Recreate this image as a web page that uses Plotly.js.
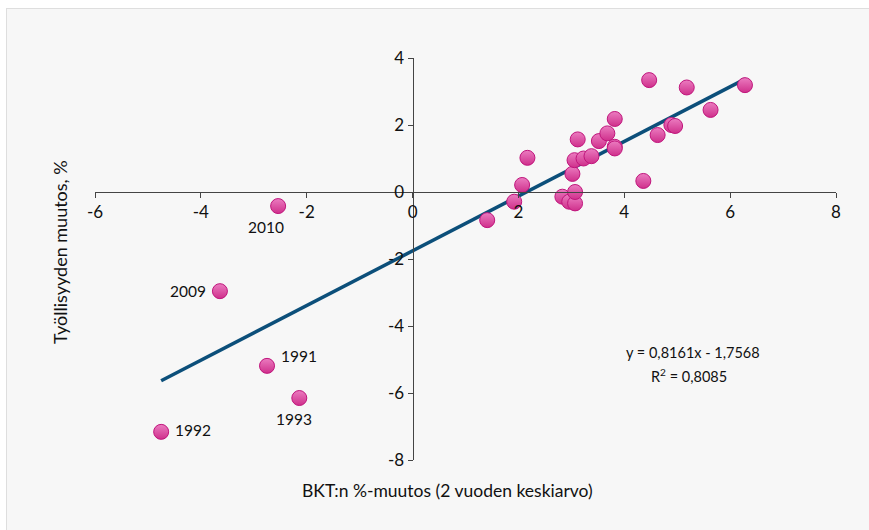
<!DOCTYPE html>
<html><head><meta charset="utf-8">
<script src="https://cdn.plot.ly/plotly-3.0.1.min.js"></script>
<style>
html,body{margin:0;padding:0;background:#fff;width:869px;height:530px;overflow:hidden;}
#panel{position:absolute;left:6px;top:8px;width:869px;height:530px;background:#f7f7f7;border:1px solid #dedede;}
#chart{position:absolute;left:0;top:0;width:869px;height:530px;}
</style></head>
<body><div id="panel"></div><div id="chart"></div>
<script>
// GDP change (2-year average), %
const gdp = [-2.54, -3.64, -2.75, -2.14, -4.75, 1.41, 1.92, 2.07, 2.17, 2.83, 2.96, 3.07, 3.07, 3.02, 3.06, 3.23, 3.38, 3.12, 3.52, 3.68, 3.82, 3.82, 3.82, 4.36, 4.47, 4.63, 4.89, 4.96, 5.18, 5.63, 6.28];
// Employment change, %
const emp = [-0.42, -2.96, -5.19, -6.15, -7.16, -0.84, -0.29, 0.21, 1.02, -0.14, -0.29, -0.34, 0.0, 0.54, 0.95, 1.0, 1.07, 1.57, 1.52, 1.75, 2.18, 1.35, 1.30, 0.33, 3.34, 1.70, 2.0, 1.97, 3.12, 2.45, 3.19];
// Labelled years
const yearLabels = ['2010', '2009', '1991', '1993', '1992'];
const yearX = [-2.54, -3.64, -2.75, -2.14, -4.75];
const yearY = [-0.42, -2.96, -5.19, -6.15, -7.16];
const yearPos = ['below', 'left', 'aboveright', 'below', 'right'];
// Linear trend
const slope = 0.8161, intercept = -1.7568;
const xTicks = [-6, -4, -2, 0, 2, 4, 6, 8];
const yTicks = [-8, -6, -4, -2, 0, 2, 4];

const xmin = Math.min(...gdp), xmax = Math.max(...gdp);
const font = 'Lato, "Open Sans", sans-serif';

const offsets = {
  below: {xshift: -12, yshift: -21, xanchor: 'center'},
  left: {xshift: -12, yshift: 0, xanchor: 'right'},
  aboveright: {xshift: 12, yshift: 10, xanchor: 'left'},
  right: {xshift: 12, yshift: 2, xanchor: 'left'}
};
const yearAnn = yearLabels.map((t, i) => {
  const o = offsets[yearPos[i]];
  return {x: yearX[i], y: yearY[i], xref: 'x', yref: 'y', text: t, showarrow: false,
    xshift: o.xshift + (t === '1993' ? 7 : 0), yshift: o.yshift, xanchor: o.xanchor, yanchor: 'middle',
    font: {family: font, size: 15.5, color: '#111'}};
});

const traces = [
  {x: [xmin, xmax], y: [slope * xmin + intercept, slope * xmax + intercept], mode: 'lines',
   line: {color: '#0c4f7a', width: 3.5}, hoverinfo: 'skip'},
  {x: gdp, y: emp, mode: 'markers',
   marker: {size: 15, color: '#eb7cc0', line: {color: '#c0157c', width: 1},
            gradient: {type: 'vertical', color: '#cf2f8b'}}}
];

const layout = {
  width: 869, height: 530,
  margin: {l: 95, r: 33, t: 58, b: 70},
  paper_bgcolor: 'rgba(0,0,0,0)', plot_bgcolor: 'rgba(0,0,0,0)',
  showlegend: false,
  font: {family: font, size: 16, color: '#111'},
  xaxis: {range: [-6, 8], tickvals: xTicks, ticktext: xTicks.map(String),
    anchor: 'free', position: 8 / 12, showline: true, linecolor: '#444', linewidth: 1,
    ticks: 'outside', ticklen: 5, tickcolor: '#444', showgrid: false, zeroline: false,
    tickfont: {family: font, size: 17, color: '#111'}},
  yaxis: {range: [-8, 4], tickvals: yTicks, ticktext: yTicks.map(String),
    anchor: 'free', position: 6 / 14, showline: true, linecolor: '#444', linewidth: 1,
    ticks: 'outside', ticklen: 5, tickcolor: '#444', showgrid: false, zeroline: false,
    tickfont: {family: font, size: 17, color: '#111'}},
  annotations: yearAnn.concat([
    {xref: 'paper', yref: 'paper', x: (447 - 95) / 741, y: (460 - 490) / 402, text: 'BKT:n %-muutos (2 vuoden keskiarvo)',
     showarrow: false, xanchor: 'center', yanchor: 'middle', font: {family: font, size: 17.5, color: '#111'}},
    {xref: 'paper', yref: 'paper', x: (60 - 95) / 741, y: (460 - 252) / 402, text: 'Työllisyyden muutos, %', textangle: -90,
     showarrow: false, xanchor: 'center', yanchor: 'middle', font: {family: font, size: 18, color: '#111'}},
    {xref: 'paper', yref: 'paper', x: (693 - 95) / 741, y: (460 - 352) / 402, text: 'y = 0,8161x - 1,7568',
     showarrow: false, xanchor: 'center', yanchor: 'middle', font: {family: font, size: 14.5, color: '#111'}},
    {xref: 'paper', yref: 'paper', x: (689 - 95) / 741, y: (460 - 375) / 402, text: 'R<sup>2</sup> = 0,8085',
     showarrow: false, xanchor: 'center', yanchor: 'middle', font: {family: font, size: 14.5, color: '#111'}}
  ])
};
Plotly.newPlot('chart', traces, layout, {staticPlot: true});
</script></body></html>
